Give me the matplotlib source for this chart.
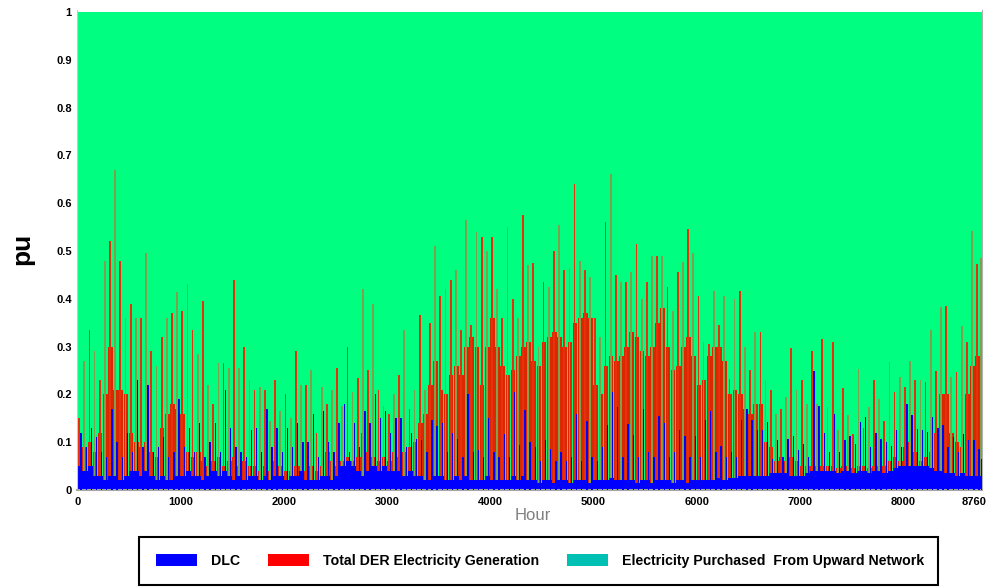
"""
Hourly share of supply over one year (8760 h), stacked in per-unit:
DLC (blue), total DER generation (red) and the rest bought from the upward network (green).
Values are read off the reference figure in 50-hour blocks: a 'base' level that looks
solid and a 'peak' spike reached inside each block.
"""

import numpy as np
import matplotlib.pyplot as plt
from matplotlib.patches import Patch, Rectangle
from matplotlib.transforms import ScaledTranslation

plt.rcParams['font.family'] = ['Liberation Sans', 'DejaVu Sans']

# ============================================================
# DATA (50 h blocks, the last one is 8750-8760)
# ============================================================
edges = np.append(np.arange(0, 8751, 50), 8760)

dlc_base = np.array([
    0.05, 0.04, 0.05, 0.03, 0.03, 0.02, 0.03, 0.03, 0.02, 0.03, 0.04, 0.04, 0.03, 0.04, 0.03,
    0.02, 0.03, 0.02, 0.02, 0.03, 0.03, 0.04, 0.03, 0.03, 0.02, 0.03, 0.04, 0.03, 0.04, 0.03,
    0.02, 0.03, 0.02, 0.03, 0.03, 0.02, 0.03, 0.02, 0.03, 0.03, 0.02, 0.03, 0.03, 0.04,
    0.02, 0.02, 0.02, 0.03, 0.03, 0.02, 0.03, 0.05, 0.06, 0.05, 0.04, 0.03, 0.04, 0.05, 0.04,
    0.05, 0.04, 0.04, 0.04, 0.03, 0.04, 0.03, 0.03, 0.02, 0.02, 0.03, 0.03, 0.02, 0.02, 0.03,
    0.02, 0.03, 0.02, 0.02, 0.02, 0.03, 0.02, 0.02, 0.02, 0.02, 0.03, 0.02, 0.03, 0.02,
    0.02, 0.015, 0.02, 0.02, 0.015, 0.02, 0.02, 0.015, 0.02, 0.02, 0.02, 0.015, 0.02, 0.02, 0.02,
    0.025, 0.02, 0.02, 0.02, 0.02, 0.015, 0.02, 0.02, 0.015, 0.02, 0.02, 0.02, 0.015, 0.02, 0.02,
    0.015, 0.02, 0.02, 0.02, 0.02, 0.02, 0.025, 0.02, 0.025, 0.025, 0.03, 0.03, 0.03, 0.03,
    0.03, 0.03, 0.035, 0.035, 0.035, 0.035, 0.03, 0.03, 0.03, 0.035, 0.04, 0.04, 0.04, 0.04, 0.04,
    0.035, 0.04, 0.04, 0.035, 0.04, 0.04, 0.035, 0.04, 0.04, 0.035, 0.04, 0.045, 0.05, 0.05, 0.05,
    0.05, 0.05, 0.05, 0.045, 0.04, 0.04, 0.035, 0.035, 0.03, 0.035, 0.03, 0.03, 0.03, 0.03,
])

dlc_peak = np.array([
    0.12, 0.09, 0.13, 0.11, 0.08, 0.07, 0.17, 0.10, 0.07, 0.12, 0.08, 0.23, 0.09, 0.22, 0.08,
    0.09, 0.11, 0.07, 0.08, 0.19, 0.09, 0.13, 0.08, 0.14, 0.07, 0.10, 0.14, 0.08, 0.21, 0.13,
    0.09, 0.08, 0.07, 0.125, 0.13, 0.08, 0.17, 0.09, 0.13, 0.08, 0.13, 0.09, 0.14, 0.10,
    0.10, 0.16, 0.07, 0.165, 0.10, 0.08, 0.14, 0.18, 0.08, 0.14, 0.09, 0.165, 0.14, 0.20, 0.15,
    0.165, 0.12, 0.15, 0.15, 0.09, 0.12, 0.107, 0.105, 0.08, 0.147, 0.133, 0.14, 0.08, 0.12, 0.107,
    0.07, 0.20, 0.08, 0.083, 0.07, 0.15, 0.08, 0.07, 0.118, 0.07, 0.205, 0.095, 0.168, 0.10,
    0.09, 0.06, 0.104, 0.086, 0.06, 0.08, 0.06, 0.07, 0.158, 0.06, 0.145, 0.07, 0.06, 0.09, 0.135,
    0.206, 0.173, 0.07, 0.139, 0.114, 0.07, 0.17, 0.08, 0.07, 0.154, 0.14, 0.07, 0.08, 0.125, 0.112,
    0.07, 0.112, 0.07, 0.146, 0.165, 0.08, 0.092, 0.07, 0.08, 0.07, 0.147, 0.17, 0.146, 0.125,
    0.125, 0.142, 0.065, 0.105, 0.07, 0.107, 0.113, 0.084, 0.097, 0.07, 0.248, 0.175, 0.12, 0.08, 0.16,
    0.08, 0.104, 0.112, 0.097, 0.142, 0.153, 0.09, 0.12, 0.107, 0.10, 0.093, 0.125, 0.09, 0.18, 0.156,
    0.128, 0.125, 0.122, 0.153, 0.13, 0.135, 0.09, 0.11, 0.08, 0.118, 0.104, 0.104, 0.086, 0.065,
])

der_base = np.array([
    0.01, 0.05, 0.05, 0.05, 0.09, 0.18, 0.27, 0.18, 0.19, 0.17, 0.08, 0.06, 0.06, 0.06, 0.05,
    0.05, 0.10, 0.14, 0.16, 0.14, 0.13, 0.04, 0.04, 0.05, 0.04, 0.02, 0.02, 0.04, 0.01, 0.03,
    0.05, 0.02, 0.04, 0.02, 0.02, 0.02, 0.02, 0.02, 0.03, 0.02, 0.02, 0.01, 0.02, 0.01,
    0.02, 0.03, 0.02, 0.02, 0.05, 0.04, 0.02, 0.01, 0.01, 0.01, 0.03, 0.09, 0.04, 0.02, 0.02,
    0.02, 0.02, 0.04, 0.03, 0.05, 0.05, 0.07, 0.11, 0.14, 0.20, 0.24, 0.18, 0.18, 0.22, 0.23,
    0.22, 0.27, 0.30, 0.28, 0.20, 0.27, 0.34, 0.28, 0.24, 0.22, 0.22, 0.26, 0.27, 0.29,
    0.25, 0.245, 0.29, 0.30, 0.315, 0.30, 0.28, 0.295, 0.33, 0.34, 0.35, 0.345, 0.20, 0.18, 0.24,
    0.255, 0.25, 0.26, 0.28, 0.31, 0.305, 0.27, 0.26, 0.285, 0.33, 0.36, 0.28, 0.235, 0.24, 0.28,
    0.305, 0.26, 0.20, 0.21, 0.26, 0.28, 0.275, 0.25, 0.175, 0.185, 0.17, 0.14, 0.13, 0.15,
    0.15, 0.07, 0.055, 0.025, 0.035, 0.025, 0.04, 0.03, 0.02, 0.015, 0.01, 0.01, 0.01, 0.01, 0.01,
    0.01, 0.01, 0.01, 0.01, 0.01, 0.01, 0.01, 0.01, 0.01, 0.015, 0.02, 0.025, 0.01, 0.04, 0.05,
    0.03, 0.01, 0.02, 0.035, 0.08, 0.16, 0.165, 0.085, 0.07, 0.055, 0.17, 0.23, 0.25, 0.19,
])

der_peak = np.array([
    0.10, 0.23, 0.285, 0.26, 0.20, 0.46, 0.49, 0.64, 0.46, 0.33, 0.35, 0.32, 0.33, 0.455, 0.26,
    0.24, 0.29, 0.34, 0.35, 0.385, 0.345, 0.39, 0.305, 0.255, 0.375, 0.19, 0.14, 0.235, 0.225, 0.225,
    0.42, 0.225, 0.28, 0.20, 0.18, 0.195, 0.18, 0.125, 0.20, 0.135, 0.18, 0.12, 0.26, 0.18,
    0.20, 0.23, 0.10, 0.185, 0.15, 0.19, 0.225, 0.125, 0.24, 0.155, 0.195, 0.39, 0.21, 0.34, 0.17,
    0.125, 0.12, 0.16, 0.20, 0.305, 0.13, 0.18, 0.335, 0.19, 0.33, 0.48, 0.375, 0.40, 0.42, 0.43,
    0.315, 0.535, 0.325, 0.52, 0.51, 0.47, 0.51, 0.40, 0.34, 0.53, 0.37, 0.34, 0.545, 0.45,
    0.455, 0.285, 0.415, 0.405, 0.485, 0.535, 0.44, 0.45, 0.62, 0.46, 0.44, 0.43, 0.34, 0.30, 0.54,
    0.635, 0.43, 0.415, 0.415, 0.435, 0.50, 0.38, 0.415, 0.475, 0.47, 0.47, 0.405, 0.36, 0.435, 0.457,
    0.53, 0.475, 0.385, 0.29, 0.286, 0.396, 0.321, 0.385, 0.208, 0.375, 0.387, 0.27, 0.22, 0.30,
    0.30, 0.20, 0.175, 0.125, 0.135, 0.16, 0.267, 0.18, 0.20, 0.145, 0.25, 0.14, 0.275, 0.133, 0.27,
    0.09, 0.174, 0.116, 0.083, 0.213, 0.09, 0.138, 0.19, 0.15, 0.11, 0.227, 0.16, 0.187, 0.165, 0.22,
    0.18, 0.18, 0.176, 0.289, 0.209, 0.343, 0.349, 0.201, 0.216, 0.309, 0.28, 0.511, 0.442, 0.456,
])

x_ticks  = [0, 1000, 2000, 3000, 4000, 5000, 6000, 7000, 8000, 8760]
y_ticks  = [0, 0.1, 0.2, 0.3, 0.4, 0.5, 0.6, 0.7, 0.8, 0.9, 1]
y_labels = ['0', '0.1', '0.2', '0.3', '0.4', '0.5', '0.6', '0.7', '0.8', '0.9', '1']
labels   = ['DLC', 'Total DER Electricity Generation',
            'Electricity Purchased  From Upward Network']

GREEN = '#00ff80'
RED_BODY = '#dc2800'
RED_SPIKE = '#e8300c'
OLIVE = '#80a04c'
BLUE = '#0000ff'

# remainder bought from the upward network
body_top = dlc_base + der_base
grid_share = 1 - body_top

# ============================================================
# FIGURE
# ============================================================
fig = plt.figure(figsize=(9.88, 5.88), dpi=100)
ax = fig.add_axes([77.2 / 988, 1 - 490 / 588, 904.3 / 988, 480 / 588])

left = edges[:-1]
widths = np.diff(edges)

ax.stairs(body_top + grid_share, edges, baseline=body_top, fill=True, color=GREEN, lw=0)
ax.stairs(body_top, edges, baseline=dlc_base, fill=True, color=GREEN, lw=0)
# red body as slightly narrower blocks so thin green gaps show between them
ax.bar(left, der_base, bottom=dlc_base, width=widths * 0.9, align='edge',
       color=RED_BODY, lw=0, zorder=2)
ax.stairs(dlc_base, edges, baseline=0, fill=True, color=BLUE, lw=0, zorder=2.5)

# thin spikes inside each block
spike_cols = [RED_SPIKE if i % 2 == 0 else OLIVE for i in range(len(der_peak))]
ax.bar(left + 0.36 * widths, der_peak, bottom=dlc_base, width=17,
       color=spike_cols, lw=0, zorder=3)
ax.bar(left + 0.74 * widths, dlc_peak, width=13, color=BLUE, lw=0, zorder=4)

ax.set_xlim(0, 8760)
ax.set_ylim(0, 1.004)
ax.set_xticks(x_ticks)
ax.set_yticks(y_ticks)
ax.set_yticklabels(y_labels)
ax.tick_params(axis='both', length=0, labelsize=8)
ax.tick_params(axis='x', pad=5)
ax.tick_params(axis='y', pad=4)
for lab in ax.get_xticklabels() + ax.get_yticklabels():
    lab.set_fontweight('bold')
last = ax.get_xticklabels()[-1]
last.set_transform(last.get_transform() + ScaledTranslation(-7 / 100, 0, fig.dpi_scale_trans))

ax.spines['top'].set_visible(False)
ax.spines['right'].set_color('#b0b0b0')
ax.spines['left'].set_color('#c8c8c8')
ax.spines['bottom'].set_color('#a6a6a6')
ax.spines['bottom'].set_linewidth(1.5)

fig.text(22 / 988, 1 - 249 / 588, 'pu', rotation=90, fontsize=19, fontweight='bold',
         ha='center', va='center')
fig.text(533 / 988, 1 - 516 / 588, 'Hour', color='#808080', fontsize=12,
         ha='center', va='center')

# legend with its own box below the plot
fig.add_artist(Rectangle((139 / 988, 1 - 585 / 588), 799 / 988, 48 / 588,
                         transform=fig.transFigure, fill=False, edgecolor='black', lw=1.5))
handles = [Patch(facecolor=BLUE, edgecolor='none'),
           Patch(facecolor='#ff0000', edgecolor='none'),
           Patch(facecolor='#00c0b4', edgecolor='none')]
fig.legend(handles, labels, loc='center', bbox_to_anchor=(540 / 988, 1 - 561 / 588),
           ncol=3, frameon=False, prop={'size': 10.2, 'weight': 'bold'},
           handlelength=2.85, handleheight=0.98, handletextpad=1.0, columnspacing=2.0)

fig.savefig('out.png', dpi=100)
